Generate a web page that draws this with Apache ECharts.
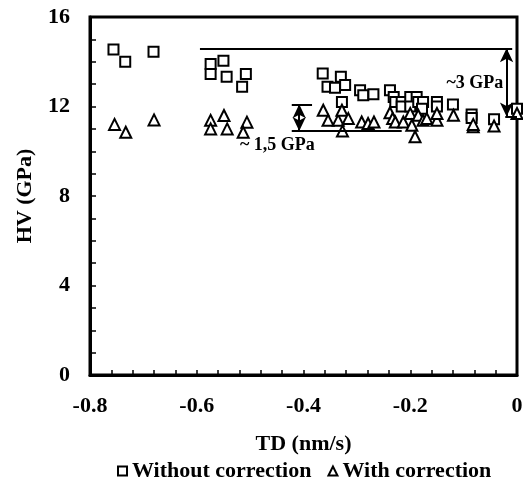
<!DOCTYPE html>
<html>
<head>
<meta charset="utf-8">
<script src="https://cdn.jsdelivr.net/npm/echarts@6/dist/echarts.min.js"></script>
<style>
html,body{margin:0;padding:0;background:#fff;}
#chart{width:523px;height:492px;}
</style>
</head>
<body>
<div id="chart"></div>
<script>
// Without correction (squares): [TD, HV]
const withoutCorrection = [
  [-0.756, 14.55], [-0.734, 14.0], [-0.681, 14.45],
  [-0.574, 13.9], [-0.574, 13.45], [-0.550, 14.05], [-0.544, 13.33], [-0.508, 13.45], [-0.515, 12.88],
  [-0.364, 13.48], [-0.355, 12.88], [-0.341, 12.84], [-0.330, 13.33], [-0.322, 12.96], [-0.328, 12.2],
  [-0.294, 12.73], [-0.288, 12.5], [-0.269, 12.55],
  [-0.238, 12.73], [-0.231, 12.43], [-0.228, 12.2], [-0.216, 12.2], [-0.216, 12.0],
  [-0.200, 12.43], [-0.188, 12.43], [-0.200, 12.0], [-0.185, 12.2], [-0.176, 12.2], [-0.178, 11.9],
  [-0.150, 12.2], [-0.150, 12.0], [-0.120, 12.09],
  [-0.085, 11.64], [-0.085, 11.49], [-0.043, 11.43], [0.0, 11.9]
];
// With correction (triangles): [TD, HV]
const withCorrection = [
  [-0.754, 11.2], [-0.733, 10.85], [-0.680, 11.4],
  [-0.574, 11.38], [-0.574, 11.0], [-0.549, 11.6], [-0.543, 11.0], [-0.506, 11.3], [-0.513, 10.85],
  [-0.363, 11.83], [-0.354, 11.38], [-0.335, 11.38], [-0.328, 11.83], [-0.316, 11.46], [-0.327, 10.9],
  [-0.291, 11.31], [-0.279, 11.24], [-0.268, 11.31],
  [-0.238, 11.72], [-0.233, 11.46], [-0.228, 11.31], [-0.213, 11.31], [-0.200, 11.69], [-0.197, 11.16],
  [-0.191, 10.65], [-0.185, 11.61], [-0.176, 11.38], [-0.169, 11.46], [-0.150, 11.38], [-0.150, 11.69],
  [-0.119, 11.61], [-0.082, 11.09], [-0.082, 11.2], [-0.043, 11.13], [0.0, 11.69]
];
const seriesNames = ['Without correction', 'With correction'];
const xTicks = { min: -0.8, max: 0, interval: 0.2 };
const yTicks = { min: 0, max: 16, interval: 4 };
// Annotation lines: [[x1,y1],[x2,y2]]
const plainLines = [
  [[-0.594, 14.6], [-0.009, 14.6]],
  [[-0.422, 12.1], [-0.384, 12.1]],
  [[-0.422, 10.9], [-0.216, 10.9]],
  [[-0.022, 11.55], [0.0, 11.55]]
];
const arrowLines = [
  [[-0.408, 12.1], [-0.408, 10.9]],
  [[-0.0195, 14.6], [-0.0195, 11.55]]
];
const annotationTexts = [
  { text: '~ 1,5 GPa', at: [-0.449, 10.25] },
  { text: '~3 GPa', at: [-0.079, 13.05] }
];

const FONT = '"Liberation Serif", "Times New Roman", serif';
const chart = echarts.init(document.getElementById('chart'));

const markLineData = [];
plainLines.forEach(l => markLineData.push([
  { coord: l[0], symbol: 'none' }, { coord: l[1], symbol: 'none' }
]));
arrowLines.forEach(l => markLineData.push([
  { coord: l[0], symbol: 'arrow', symbolSize: [10, 14] }, { coord: l[1], symbol: 'arrow', symbolSize: [10, 14] }
]));

chart.setOption({
  animation: false,
  backgroundColor: '#fff',
  grid: { left: 90, right: 6, top: 17, bottom: 117, show: true, borderColor: '#000', borderWidth: 3,
          containLabel: false, outerBoundsMode: 'none' },
  legend: {
    bottom: 5, left: 112,
    itemWidth: 9, itemHeight: 9, itemGap: 16,
    textStyle: { fontFamily: FONT, fontWeight: 'bold', fontSize: 22, color: '#000' },
    data: seriesNames
  },
  xAxis: {
    type: 'value', min: xTicks.min, max: xTicks.max, interval: xTicks.interval,
    name: 'TD (nm/s)', nameLocation: 'middle', nameGap: 58, nameMoveOverlap: false,
    nameTextStyle: { fontFamily: FONT, fontWeight: 'bold', fontSize: 22, color: '#000' },
    axisLine: { onZero: false, lineStyle: { color: '#000', width: 3 } },
    axisTick: { inside: true, length: 5, lineStyle: { color: '#000', width: 1.5 } },
    minorTick: { show: true, splitNumber: 5, length: 5, lineStyle: { color: '#000', width: 1.5 } },
    splitLine: { show: false },
    axisLabel: { margin: 20, fontFamily: FONT, fontWeight: 'bold', fontSize: 22, color: '#000' }
  },
  yAxis: {
    type: 'value', min: yTicks.min, max: yTicks.max, interval: yTicks.interval,
    name: 'HV (GPa)', nameLocation: 'middle', nameGap: 54, nameMoveOverlap: false,
    nameTextStyle: { fontFamily: FONT, fontWeight: 'bold', fontSize: 22, color: '#000' },
    axisLine: { onZero: false, lineStyle: { color: '#000', width: 3 } },
    axisTick: { inside: true, length: 6, lineStyle: { color: '#000', width: 1.5 } },
    minorTick: { show: true, splitNumber: 4, length: 6, lineStyle: { color: '#000', width: 1.5 } },
    splitLine: { show: false },
    axisLabel: { margin: 20, fontFamily: FONT, fontWeight: 'bold', fontSize: 22, color: '#000' }
  },
  series: [
    {
      name: seriesNames[0], type: 'scatter', data: withoutCorrection,
      symbol: 'rect', symbolSize: 10,
      itemStyle: { color: '#fff', borderColor: '#000', borderWidth: 2, opacity: 1 },
      markLine: {
        silent: true, animation: false,
        lineStyle: { color: '#000', width: 2, type: 'solid' },
        label: { show: false },
        data: markLineData
      },
      z: 3
    },
    {
      name: seriesNames[1], type: 'scatter', data: withCorrection,
      symbol: 'triangle', symbolSize: 11,
      itemStyle: { color: '#fff', borderColor: '#000', borderWidth: 2, opacity: 1 },
      z: 4
    }
  ]
});

chart.setOption({
  graphic: annotationTexts.map(a => {
    const p = chart.convertToPixel({ gridIndex: 0 }, a.at);
    return {
      type: 'text', x: p[0], y: p[1], z: 10,
      style: { text: a.text, fontFamily: FONT, fontWeight: 'bold', fontSize: 18, fill: '#000',
               align: 'center', verticalAlign: 'middle' }
    };
  })
});
</script>
</body>
</html>
